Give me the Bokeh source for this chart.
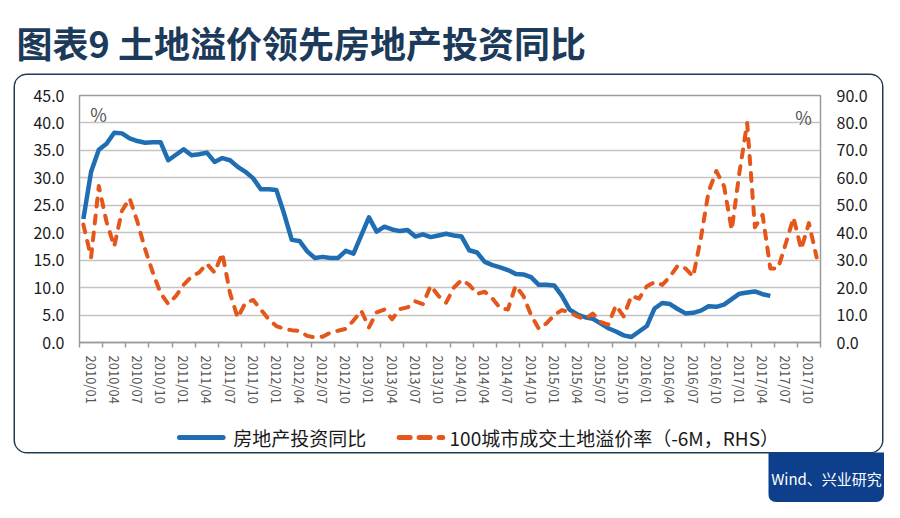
from bokeh.plotting import figure
from bokeh.layouts import column, row
from bokeh.models import (Range1d, LinearAxis, FixedTicker, Label, Spacer, Column,
                          ColumnDataSource, NumeralTickFormatter)
from bokeh.embed import file_html
from bokeh.resources import INLINE

# ---------------- data ----------------
tick_labels = ["2010/01", "2010/04", "2010/07", "2010/10",
               "2011/01", "2011/04", "2011/07", "2011/10",
               "2012/01", "2012/04", "2012/07", "2012/10",
               "2013/01", "2013/04", "2013/07", "2013/10",
               "2014/01", "2014/04", "2014/07", "2014/10",
               "2015/01", "2015/04", "2015/07", "2015/10",
               "2016/01", "2016/04", "2016/07", "2016/10",
               "2017/01", "2017/04", "2017/07", "2017/10"]

# 房地产投资同比 (LHS, %), monthly from 2010/01
invest = [22.5, 31.1, 35.1, 36.2, 38.2, 38.1, 37.2, 36.7, 36.4, 36.5, 36.5, 33.2,
          34.2, 35.2, 34.1, 34.3, 34.6, 32.9, 33.6, 33.2, 32.0, 31.1, 29.9, 27.9,
          27.9, 27.8, 23.5, 18.7, 18.5, 16.6, 15.4, 15.6, 15.4, 15.4, 16.7, 16.2,
          19.5, 22.8, 20.2, 21.1, 20.6, 20.3, 20.5, 19.3, 19.7, 19.2, 19.5, 19.8,
          19.5, 19.3, 16.8, 16.4, 14.7, 14.1, 13.7, 13.2, 12.5, 12.4, 11.9, 10.5,
          10.5, 10.4, 8.5, 6.0, 5.1, 4.6, 4.3, 3.5, 2.6, 2.0, 1.3, 1.0,
          2.0, 3.0, 6.2, 7.2, 7.0, 6.1, 5.3, 5.4, 5.8, 6.6, 6.5, 6.9,
          7.9, 8.9, 9.1, 9.3, 8.8, 8.5]

# 100城市成交土地溢价率 (-6M, RHS, %), monthly from 2010/01
premium = [43, 31, 57, 44, 35, 48, 52.5, 44, 34, 25.5, 18, 14,
           17, 21, 24, 25.5, 28.7, 25.5, 32.5, 18, 9, 14.5, 15.5, 12,
           8.5, 6, 5, 4.5, 4.2, 2.4, 1.8, 2.1, 3.6, 4.3, 5, 8,
           11.6, 5.5, 11, 12, 8.5, 12.2, 12.8, 15, 14, 20.7, 17, 14.5,
           20, 22.8, 21, 17.7, 18.5, 16, 12.5, 12, 20.7, 17, 10, 5,
           7, 10, 11.8, 11, 9.5, 8.5, 10.5, 7.5, 6.5, 13.5, 9.5, 17,
           16, 20.5, 22, 21, 24, 28, 27, 24, 38, 55, 62.5, 57,
           41, 62, 80, 42, 46.5, 27, 27, 36, 45.5, 34, 43.5, 31]

series_names = ["房地产投资同比", "100城市成交土地溢价率（-6M，RHS）"]

N_MONTHS = 96
left_ticks = [0, 5, 10, 15, 20, 25, 30, 35, 40, 45]
right_ticks = [0, 10, 20, 30, 40, 50, 60, 70, 80, 90]

FONT = "Noto Sans CJK SC"
TOTAL_W = 884
BLUE, ORANGE = "#1f6db3", "#e4561a"


def blank_fig(w, h, **kw):
    f = figure(width=w, height=h, output_backend="svg", toolbar_location=None,
               x_range=Range1d(0, w), y_range=Range1d(0, h),
               x_axis_type=None, y_axis_type=None,
               min_border=0, min_border_left=0, min_border_right=0,
               min_border_top=0, min_border_bottom=0, **kw)
    f.outline_line_color = None
    f.grid.visible = False
    return f


# ---------------- title strip ----------------
TH = 75
title_fig = blank_fig(TOTAL_W, TH)
title_fig.add_layout(Label(x=16, y=TH - 41, text="图表9 土地溢价领先房地产投资同比",
                           text_align="left", text_baseline="middle", text_font=FONT,
                           text_font_size="36px", text_font_style="bold",
                           text_color="#1c3a5a"))

# ---------------- main chart ----------------
BOX_X, BOX_Y = 15, TH          # page position of the rounded frame
MW = 867
CH = 340                        # chart part height (page y 75..415)
LH = 37                         # legend strip height (page y 415..452)
PL, PR, PT, PB = 79, 820, 95, 342  # plot-area edges, page coords
X0, X1 = -0.5, N_MONTHS - 0.5
Y0, Y1 = 0, 45


def dx(page_x):
    return X0 + (page_x - PL) / (PR - PL) * (X1 - X0)


def dy(page_y):
    return Y0 + (PB - page_y) / (PB - PT) * (Y1 - Y0)


p = figure(width=MW, height=CH, output_backend="svg", toolbar_location=None,
           x_range=Range1d(X0, X1), y_range=Range1d(Y0, Y1),
           min_border_left=PL - BOX_X, min_border_right=MW - (PR - BOX_X),
           min_border_top=PT - BOX_Y, min_border_bottom=CH - (PB - BOX_Y))
p.background_fill_color = "white"
p.border_fill_color = "white"
p.outline_line_color = "#9a9a9a"
p.outline_line_width = 1.5

p.xgrid.visible = False
p.ygrid.ticker = FixedTicker(ticks=left_ticks)
p.ygrid.grid_line_color = "#c4c4c4"
p.ygrid.grid_line_width = 1.5

# left axis
ya = p.yaxis[0]
ya.ticker = FixedTicker(ticks=left_ticks)
ya.formatter = NumeralTickFormatter(format="0.0")
ya.axis_line_color = None
ya.major_tick_line_color = None
ya.minor_tick_line_color = None
ya.major_tick_out = 0
ya.major_label_standoff = 15
ya.major_label_text_font = FONT
ya.major_label_text_font_size = "16px"
ya.major_label_text_color = "#1a1a1a"

# right axis
p.extra_y_ranges = {"rhs": Range1d(0, 90)}
ra = LinearAxis(y_range_name="rhs", ticker=FixedTicker(ticks=right_ticks),
                formatter=NumeralTickFormatter(format="0.0"))
ra.axis_line_color = None
ra.major_tick_line_color = None
ra.minor_tick_line_color = None
ra.major_tick_out = 0
ra.major_label_standoff = 16
ra.major_label_text_font = FONT
ra.major_label_text_font_size = "16px"
ra.major_label_text_color = "#1a1a1a"
p.add_layout(ra, "right")

# bottom axis: tick marks between quarters, labels centred between them
xa = p.xaxis[0]
label_pos = [1 + 3 * k for k in range(len(tick_labels))]
xa.ticker = FixedTicker(ticks=label_pos,
                        minor_ticks=[-0.5 + 3 * k for k in range(len(tick_labels) + 1)])
xa.major_label_overrides = {pos: lab for pos, lab in zip(label_pos, tick_labels)}
xa.major_label_orientation = "vertical"
xa.major_tick_line_color = None
xa.major_tick_out = 0
xa.major_tick_in = 0
xa.minor_tick_line_color = "#9a9a9a"
xa.minor_tick_line_width = 1.5
xa.minor_tick_out = 5
xa.minor_tick_in = 0
xa.axis_line_color = "#9a9a9a"
xa.axis_line_width = 1.5
xa.major_label_standoff = 8
xa.major_label_text_font = FONT
xa.major_label_text_font_size = "13px"
xa.major_label_text_color = "#555555"

# series
src_b = ColumnDataSource(dict(x=list(range(len(invest))), y=invest))
src_r = ColumnDataSource(dict(x=list(range(len(premium))), y=premium))
p.line("x", "y", source=src_b, line_color=BLUE, line_width=4.5, line_join="round")
p.line("x", "y", source=src_r, y_range_name="rhs", line_color=ORANGE, line_width=4,
       line_dash="8 9", line_cap="round", line_join="round")

# "%" markers
for px, py in [(98, 113), (803, 116)]:
    p.add_layout(Label(x=dx(px), y=dy(py), text="%", text_align="center",
                       text_baseline="middle", text_font=FONT, text_font_size="18px",
                       text_color="#555555"))

# ---------------- legend strip (pixel coordinates of the strip) ----------------
leg_fig = blank_fig(MW, LH)
ly = LH - (437 - (BOX_Y + CH))      # legend row centre, measured from strip bottom
bx0 = 130 - BOX_X
rx0 = 387 - BOX_X
leg_fig.line([bx0 + 2, bx0 + 53], [ly, ly], line_color=BLUE, line_width=5,
             line_cap="round")
leg_fig.line([rx0 + 2, rx0 + 53], [ly, ly], line_color=ORANGE, line_width=5,
             line_dash="11 9", line_cap="round")
leg_fig.add_layout(Label(x=195 - BOX_X, y=ly, text=series_names[0], text_align="left",
                         text_baseline="middle", text_font=FONT, text_font_size="19px",
                         text_color="#1a1a1a"))
leg_fig.add_layout(Label(x=448 - BOX_X, y=ly, text=series_names[1], text_align="left",
                         text_baseline="middle", text_font=FONT, text_font_size="19px",
                         text_color="#1a1a1a"))

framed = Column(children=[p, leg_fig],
                styles={"border-radius": "12px", "overflow": "hidden",
                        "box-shadow": "0 0 0 1.5px #203a56"})

# ---------------- source box ----------------
WX = 768
WW, WH = TOTAL_W - WX, 50
wind = blank_fig(WW, WH, styles={"border-radius": "0 0 8px 8px", "overflow": "hidden"})
wind.background_fill_color = "#0d3f8c"
wind.border_fill_color = "#0d3f8c"
wind.add_layout(Label(x=WW / 2, y=WH / 2 - 1, text="Wind、兴业研究", text_align="center",
                      text_baseline="middle", text_font=FONT, text_font_size="15px",
                      text_color="white"))

layout = column(title_fig,
                row(Spacer(width=BOX_X, height=CH + LH), framed),
                row(Spacer(width=WX, height=WH), wind))

open("out.html", "w").write(file_html(layout, INLINE))
